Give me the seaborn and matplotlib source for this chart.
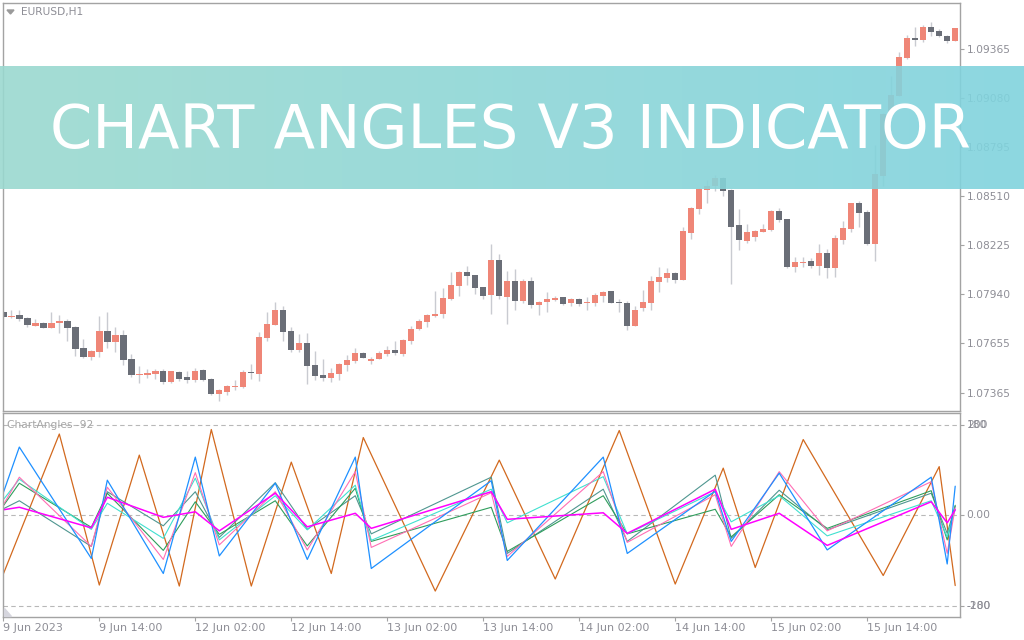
import matplotlib
matplotlib.use("Agg")
import matplotlib.pyplot as plt
import matplotlib.patches as mpatches
import seaborn as sns
import numpy as np
import pandas as pd

# --- EURUSD H1 candles ---
opens = [1.07837, 1.07806, 1.07818, 1.07800, 1.07756, 1.07771, 1.07744, 1.07773, 1.07783, 1.07748,
         1.07626, 1.07575, 1.07604, 1.07725, 1.07663, 1.07702, 1.07562, 1.07469, 1.07469, 1.07475,
         1.07492, 1.07428, 1.07486, 1.07457, 1.07440, 1.07498, 1.07446, 1.07358, 1.07370, 1.07401,
         1.07399, 1.07486, 1.07475, 1.07684, 1.07760, 1.07847, 1.07725, 1.07614, 1.07655, 1.07527,
         1.07469, 1.07453, 1.07476, 1.07529, 1.07552, 1.07599, 1.07552, 1.07564, 1.07593, 1.07616,
         1.07593, 1.07668, 1.07738, 1.07779, 1.07814, 1.07825, 1.07913, 1.07988, 1.08070, 1.08052,
         1.07982, 1.07936, 1.08140, 1.07924, 1.08017, 1.07901, 1.08017, 1.07878, 1.07895, 1.07907,
         1.07924, 1.07889, 1.07913, 1.07889, 1.07889, 1.07930, 1.07959, 1.07895, 1.07889, 1.07756,
         1.07856, 1.07889, 1.08012, 1.08035, 1.08064, 1.08023, 1.08297, 1.08436, 1.08547, 1.08568,
         1.08615, 1.08545, 1.08341, 1.08250, 1.08273, 1.08302, 1.08314, 1.08424, 1.08378, 1.08099,
         1.08122, 1.08132, 1.08105, 1.08178, 1.08093, 1.08256, 1.08320, 1.08469, 1.08419, 1.08229,
         1.08628, 1.08987, 1.09093, 1.09314, 1.09429, 1.09419, 1.09493, 1.09470, 1.09440, 1.09413]
highs = [1.07841, 1.07847, 1.07847, 1.07806, 1.07795, 1.07779, 1.07835, 1.07818, 1.07795, 1.07754,
         1.07680, 1.07614, 1.07812, 1.07835, 1.07748, 1.07731, 1.07591, 1.07521, 1.07504, 1.07504,
         1.07504, 1.07495, 1.07492, 1.07492, 1.07510, 1.07501, 1.07451, 1.07385, 1.07411, 1.07440,
         1.07498, 1.07533, 1.07719, 1.07835, 1.07893, 1.07870, 1.07748, 1.07707, 1.07713, 1.07608,
         1.07562, 1.07511, 1.07540, 1.07587, 1.07628, 1.07600, 1.07575, 1.07610, 1.07639, 1.07668,
         1.07680, 1.07756, 1.07796, 1.07825, 1.07959, 1.07977, 1.08070, 1.08076, 1.08105, 1.08052,
         1.07982, 1.08233, 1.08174, 1.08076, 1.08087, 1.08029, 1.08041, 1.07901, 1.07953, 1.07930,
         1.07925, 1.07919, 1.07919, 1.07924, 1.07948, 1.07959, 1.07960, 1.07913, 1.07901, 1.07872,
         1.07965, 1.08045, 1.08099, 1.08093, 1.08070, 1.08331, 1.08445, 1.08556, 1.08603, 1.08632,
         1.08618, 1.08548, 1.08434, 1.08349, 1.08314, 1.08349, 1.08428, 1.08442, 1.08379, 1.08157,
         1.08157, 1.08151, 1.08233, 1.08203, 1.08283, 1.08365, 1.08472, 1.08483, 1.08431, 1.08807,
         1.08990, 1.09208, 1.09348, 1.09446, 1.09493, 1.09505, 1.09522, 1.09481, 1.09446, 1.09487]
lows = [1.07803, 1.07802, 1.07785, 1.07750, 1.07756, 1.07740, 1.07744, 1.07715, 1.07668, 1.07581,
        1.07569, 1.07558, 1.07575, 1.07628, 1.07604, 1.07529, 1.07459, 1.07424, 1.07450, 1.07447,
        1.07417, 1.07422, 1.07434, 1.07422, 1.07428, 1.07434, 1.07353, 1.07318, 1.07353, 1.07382,
        1.07393, 1.07446, 1.07434, 1.07667, 1.07760, 1.07667, 1.07603, 1.07603, 1.07417, 1.07440,
        1.07434, 1.07430, 1.07442, 1.07494, 1.07540, 1.07568, 1.07535, 1.07564, 1.07581, 1.07587,
        1.07581, 1.07651, 1.07732, 1.07750, 1.07808, 1.07802, 1.07907, 1.07930, 1.07994, 1.07942,
        1.07913, 1.07825, 1.07913, 1.07767, 1.07849, 1.07889, 1.07860, 1.07820, 1.07837, 1.07901,
        1.07878, 1.07872, 1.07872, 1.07849, 1.07872, 1.07895, 1.07888, 1.07837, 1.07732, 1.07754,
        1.07843, 1.07849, 1.07953, 1.08012, 1.08006, 1.08021, 1.08262, 1.08407, 1.08471, 1.08541,
        1.08512, 1.08000, 1.08198, 1.08238, 1.08250, 1.08302, 1.08308, 1.08360, 1.08093, 1.08070,
        1.08099, 1.08089, 1.08050, 1.08031, 1.08041, 1.08233, 1.08302, 1.08331, 1.08227, 1.08132,
        1.08570, 1.08984, 1.09092, 1.09309, 1.09384, 1.09407, 1.09442, 1.09437, 1.09402, 1.09411]
closes = [1.07808, 1.07812, 1.07796, 1.07761, 1.07771, 1.07744, 1.07771, 1.07783, 1.07744, 1.07622,
          1.07575, 1.07608, 1.07725, 1.07663, 1.07702, 1.07558, 1.07469, 1.07476, 1.07481, 1.07492,
          1.07428, 1.07492, 1.07446, 1.07440, 1.07492, 1.07440, 1.07358, 1.07382, 1.07405, 1.07407,
          1.07486, 1.07481, 1.07690, 1.07765, 1.07847, 1.07719, 1.07614, 1.07655, 1.07521, 1.07463,
          1.07451, 1.07482, 1.07535, 1.07556, 1.07599, 1.07569, 1.07564, 1.07599, 1.07616, 1.07599,
          1.07674, 1.07738, 1.07785, 1.07820, 1.07825, 1.07919, 1.07994, 1.08070, 1.08046, 1.07977,
          1.07930, 1.08140, 1.07930, 1.08017, 1.07901, 1.08017, 1.07878, 1.07895, 1.07913, 1.07919,
          1.07884, 1.07913, 1.07884, 1.07895, 1.07936, 1.07953, 1.07889, 1.07889, 1.07756, 1.07849,
          1.07895, 1.08016, 1.08041, 1.08064, 1.08023, 1.08308, 1.08442, 1.08552, 1.08568, 1.08615,
          1.08541, 1.08331, 1.08256, 1.08302, 1.08308, 1.08320, 1.08424, 1.08372, 1.08099, 1.08128,
          1.08128, 1.08105, 1.08178, 1.08093, 1.08267, 1.08326, 1.08469, 1.08413, 1.08229, 1.08638,
          1.08987, 1.09097, 1.09318, 1.09429, 1.09419, 1.09493, 1.09466, 1.09442, 1.09413, 1.09487]

price_ticks = [1.09365, 1.09080, 1.08795, 1.08510, 1.08225, 1.07940, 1.07655, 1.07365]
date_bars = [0, 12, 24, 36, 48, 60, 72, 84, 96, 108]
date_labels = ["9 Jun 2023", "9 Jun 14:00", "12 Jun 02:00", "12 Jun 14:00", "13 Jun 02:00",
               "13 Jun 14:00", "14 Jun 02:00", "14 Jun 14:00", "15 Jun 02:00", "15 Jun 14:00"]

# --- ChartAngles indicator lines ---
angle_bars = [0, 2, 11, 13, 20, 24, 27, 34, 38, 44, 46, 61, 63, 75, 78, 89, 91, 97, 103, 116, 118, 119]
blue_vals = [45, 136, -86, 70, -116, 116, -81, 64, -88, 116, -106, 69, -90, 116, -76, 48, -52, 84, -69, 76, -97, 58]
pink_vals = [21, 76, -62, 56, -88, 85, -59, 47, -69, 87, -64, 45, -82, 87, -54, 41, -62, 87, -31, 67, -76, 15]
turq_vals = [31, 72, -28, 24, -46, 74, -49, 39, -29, 60, -50, 52, -15, 77, -37, 47, -13, 39, -41, 29, -43, 12]
green_vals = [19, 64, -24, 44, -70, 27, -38, 29, -61, 54, -52, 16, -72, 39, -37, 12, -43, 41, -26, 49, -49, 20]
teal_vals = [13, 29, -62, 47, -21, 47, -44, 65, -28, 39, -37, 76, -76, 52, -52, 80, -46, 50, -29, 44, -36, 18]
magenta_vals = [11, 16, -25, 36, -4, 7, -31, 44, -23, 4, -26, 47, -8, 5, -36, 52, -28, 4, -60, 27, -15, 11]
orange_bars = [0, 7, 12, 17, 22, 26, 31, 36, 41, 45, 54, 62, 69, 77, 84, 90, 94, 100, 110, 117, 119]
orange_vals = [-117, 162, -139, 120, -141, 171, -141, 106, -116, 155, -151, 110, -127, 169, -137, 94, -104, 151, -120, 97, -140]

BULL = "#ef8677"
BEAR = "#6a6e77"
WICK = "#c9cbd1"
FRAME = "#a3a3a3"
TXT = "#8e8e96"

sns.set_theme(style="white")
plt.rcParams["font.family"] = ["DejaVu Sans"]

W, H = 1024, 640
fig = plt.figure(figsize=(W / 100, H / 100), dpi=100)
fig.patch.set_facecolor("white")


def fx(x):
    return x / W


def fy(y):
    return 1 - y / H


ax = fig.add_axes([fx(3), fy(411), fx(957), 408 / H])
ax2 = fig.add_axes([fx(3), fy(616.5), fx(957), 203.5 / H])

# --- candles ---
df = pd.DataFrame({"open": opens, "high": highs, "low": lows, "close": closes})
df["bar"] = np.arange(len(df))
df["bull"] = df["close"] >= df["open"]
ax.vlines(df["bar"], df["low"], df["high"], color=WICK, lw=1.0, zorder=1)
body_lo = np.minimum(df["open"], df["close"])
body_h = np.maximum((df["close"] - df["open"]).abs(), 0.00004)
ax.bar(df["bar"], body_h, bottom=body_lo, width=0.8,
       color=np.where(df["bull"], BULL, BEAR), lw=0, zorder=2)

ax.set_xlim(-0.04, 119.6)
ax.set_ylim(1.072595, 1.096325)
ax.yaxis.tick_right()
ax.set_yticks(price_ticks)
ax.set_yticklabels([f"{p:.5f}" for p in price_ticks])
ax.set_xticks([])
ax.tick_params(axis="y", right=True, length=3, width=0.8, color=FRAME,
               labelsize=7.7, labelcolor=TXT, pad=2)
for s in ax.spines.values():
    s.set_color(FRAME)
    s.set_linewidth(1.0)

# --- indicator panel ---
for lvl in (180, 0, -180):
    ax2.axhline(lvl, color="#b8b8b8", lw=0.8, ls=(0, (4, 3)), zorder=0)

sns.lineplot(x=orange_bars, y=orange_vals, color="#d2691e", lw=0.9, ax=ax2)
line_sets = [(teal_vals, "#4f9690", 0.8), (green_vals, "#2f9d5c", 0.8),
             (turq_vals, "#40e0d0", 0.8), (pink_vals, "#ff6eb4", 0.8),
             (blue_vals, "#1e90ff", 0.9), (magenta_vals, "#ff00ff", 1.1)]
for vals, col, lw in line_sets:
    sns.lineplot(x=angle_bars, y=vals, color=col, lw=lw, ax=ax2)

ax2.set_xlim(-0.04, 119.6)
ax2.set_ylim(-201.7, 203.9)
ax2.set_ylabel("")
ax2.set_xlabel("")
ax2.yaxis.tick_right()
ax2.set_yticks([180, 0, -180])
ax2.set_yticklabels([])
ax2.tick_params(axis="y", right=True, length=3, width=0.8, color=FRAME)
ax2.set_xticks(date_bars)
ax2.set_xticklabels(date_labels, ha="left")
ax2.tick_params(axis="x", bottom=True, length=3, width=0.8, color=FRAME,
                labelsize=8, labelcolor=TXT, pad=2)
for s in ax2.spines.values():
    s.set_color(FRAME)
    s.set_linewidth(1.0)

lab_kw = dict(transform=ax2.get_yaxis_transform(), fontsize=7.7, color=TXT,
              va="center", ha="left")
ax2.text(1.007, 180, "200", **lab_kw)
ax2.text(1.007, 180, "180", **lab_kw)
ax2.text(1.007, 0, "0.00", **lab_kw)
ax2.text(1.007, -180, "-180", **lab_kw)
ax2.text(1.007, -180, "-200", **lab_kw)

fig.text(fx(7), fy(425), "ChartAngles -92", fontsize=7.7, color="#a6a6a6", va="center")
fig.text(fx(21), fy(12.5), "EURUSD,H1", fontsize=7.7, color=TXT, va="center")
fig.patches.append(mpatches.Polygon([(fx(7), fy(10)), (fx(14), fy(10)), (fx(10.5), fy(14))],
                                    closed=True, color="#9a9a9a", transform=fig.transFigure))
fig.patches.append(mpatches.Polygon([(fx(3.5), fy(608)), (fx(3.5), fy(616)), (fx(11), fy(616))],
                                    closed=True, color="#d6d6de", transform=fig.transFigure))

# --- title banner ---
bx = fig.add_axes([0, fy(189), 1, 123 / H])
bx.set_zorder(10)
bx.axis("off")
left_c = np.array([0x9b, 0xd9, 0xcf]) / 255
right_c = np.array([0x80, 0xd3, 0xde]) / 255
t = np.linspace(0, 1, 256)[:, None]
grad = (left_c * (1 - t) + right_c * t)[None, :, :]
bx.imshow(grad, aspect="auto", extent=[0, 1, 0, 1], alpha=0.9, interpolation="bilinear")
bx.set_xlim(0, 1)
bx.set_ylim(0, 1)
title = bx.text(fx(50), (189 - 148) / 123, "CHART ANGLES V3 INDICATOR", color="white",
                fontsize=40, ha="left", va="baseline", family=["DejaVu Sans"])
fig.canvas.draw()
bb = title.get_window_extent()
title.set_fontsize(40 * 920 / bb.width)

fig.savefig("out.png", dpi=100, facecolor="white")
